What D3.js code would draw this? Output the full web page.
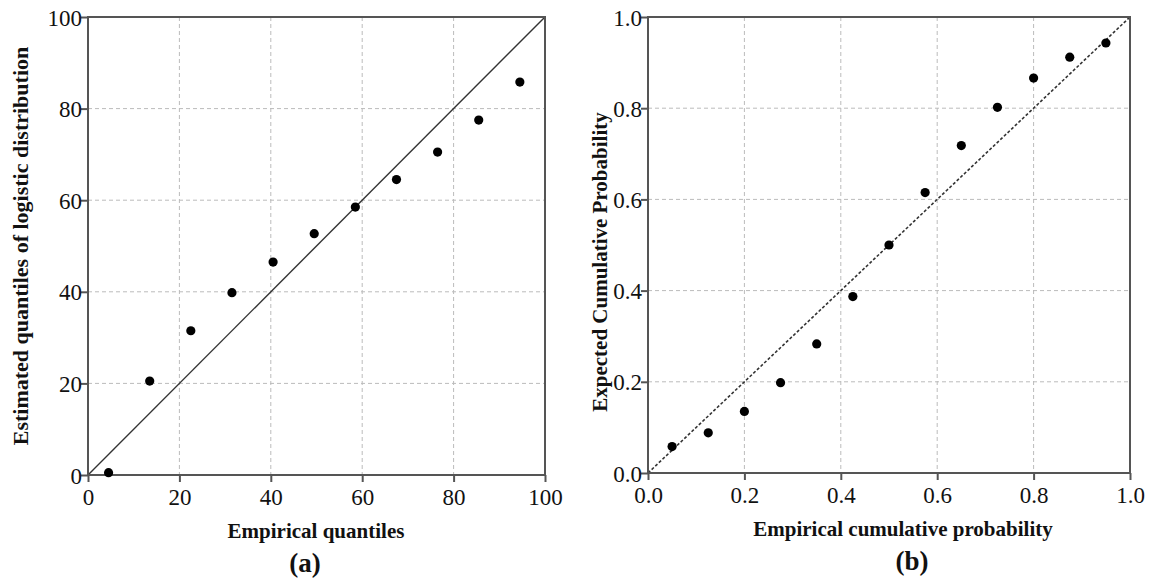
<!DOCTYPE html>
<html>
<head>
<meta charset="utf-8">
<script src="https://cdn.jsdelivr.net/npm/d3@7"></script>
<style>
  body { margin: 0; background: #fff; }
</style>
</head>
<body>
<div id="chart"></div>
<script>
// Panel (a): Q-Q plot
var empQuantiles = [4.5, 13.5, 22.5, 31.5, 40.5, 49.5, 58.5, 67.5, 76.5, 85.5, 94.5];
var estQuantiles = [0.5, 20.5, 31.5, 39.8, 46.5, 52.7, 58.5, 64.5, 70.5, 77.5, 85.8];
var ticksA = [0, 20, 40, 60, 80, 100];

// Panel (b): P-P plot
var empProb = [0.05, 0.125, 0.2, 0.275, 0.35, 0.425, 0.5, 0.575, 0.65, 0.725, 0.8, 0.875, 0.95];
var expProb = [0.058, 0.088, 0.135, 0.198, 0.283, 0.387, 0.5, 0.615, 0.718, 0.802, 0.866, 0.912, 0.943];
var ticksB = [0, 0.2, 0.4, 0.6, 0.8, 1.0];

var serif = '"Liberation Serif", "Times New Roman", serif';

var svgWidth = 1151;
var svgHeight = 579;

var svg = d3.select("#chart")
  .append("svg")
  .attr("width", svgWidth)
  .attr("height", svgHeight);

function drawPanel(opts) {
  var width = opts.right - opts.left;
  var height = opts.bottom - opts.top;

  var g = svg.append("g")
    .attr("transform", `translate(${opts.left}, ${opts.top})`);

  var x = d3.scaleLinear().domain(opts.domain).range([0, width]);
  var y = d3.scaleLinear().domain(opts.domain).range([height, 0]);

  // grid lines
  var inner = opts.ticks.slice(1, -1);
  g.selectAll(".vgrid").data(inner).enter().append("line")
    .attr("x1", d => x(d)).attr("x2", d => x(d))
    .attr("y1", 0).attr("y2", height)
    .attr("stroke", "#bbb").attr("stroke-width", 1)
    .attr("stroke-dasharray", "4,3");
  g.selectAll(".hgrid").data(inner).enter().append("line")
    .attr("x1", 0).attr("x2", width)
    .attr("y1", d => y(d)).attr("y2", d => y(d))
    .attr("stroke", "#bbb").attr("stroke-width", 1)
    .attr("stroke-dasharray", "4,3");

  // reference diagonal
  g.append("line")
    .attr("x1", x(opts.domain[0])).attr("y1", y(opts.domain[0]))
    .attr("x2", x(opts.domain[1])).attr("y2", y(opts.domain[1]))
    .attr("stroke", "#333").attr("stroke-width", opts.dashed ? 1.6 : 1.4)
    .attr("stroke-dasharray", opts.dashed ? "3,2" : null);

  // frame
  g.append("rect")
    .attr("width", width).attr("height", height)
    .attr("fill", "none").attr("stroke", "#555").attr("stroke-width", 2);

  // axes
  var bottomAxis = d3.axisBottom(x).tickValues(opts.ticks).tickFormat(opts.fmt).tickSize(7).tickSizeOuter(0);
  var leftAxis = d3.axisLeft(y).tickValues(opts.ticks).tickFormat(opts.fmt).tickSize(7).tickSizeOuter(0);

  var xa = g.append("g").attr("transform", `translate(0, ${height})`).call(bottomAxis);
  var ya = g.append("g").call(leftAxis);
  [xa, ya].forEach(function(a) {
    a.attr("font-family", serif).attr("font-size", 23);
    a.select(".domain").remove();
    a.selectAll(".tick line").attr("stroke", "#555").attr("stroke-width", 2);
    a.selectAll(".tick text").attr("fill", "#111");
  });
  xa.selectAll(".tick text").attr("y", 30).attr("dy", null);
  ya.selectAll(".tick text").attr("x", -6).attr("dy", "0.35em");

  // points
  g.selectAll("circle")
    .data(opts.xs)
    .enter()
    .append("circle")
    .attr("cx", d => x(d))
    .attr("cy", (d, i) => y(opts.ys[i]))
    .attr("r", 4.6)
    .attr("fill", "#000");

  // titles
  g.append("text")
    .attr("x", opts.xTitleX)
    .attr("y", height + 63)
    .attr("text-anchor", "middle")
    .style("font-family", serif).style("font-weight", "bold").style("font-size", "21px")
    .attr("fill", "#111")
    .text(opts.xTitle);

  g.append("text")
    .attr("transform", "rotate(-90)")
    .attr("x", -opts.yTitleY)
    .attr("y", opts.yTitleX)
    .attr("text-anchor", "middle")
    .style("font-family", serif).style("font-weight", "bold").style("font-size", opts.yTitleSize + "px")
    .attr("fill", "#111")
    .text(opts.yTitle);

  g.append("text")
    .attr("x", opts.tagX)
    .attr("y", height + 97)
    .attr("text-anchor", "middle")
    .style("font-family", serif).style("font-weight", "bold").style("font-size", "27px")
    .attr("fill", "#111")
    .text(opts.tag);
}

drawPanel({
  left: 88, right: 545, top: 17, bottom: 475,
  domain: [0, 100], ticks: ticksA, fmt: d3.format("d"),
  xs: empQuantiles, ys: estQuantiles, dashed: false,
  xTitle: "Empirical quantiles", xTitleX: 228,
  yTitle: "Estimated quantiles of logistic distribution",
  yTitleX: -60, yTitleY: 229, yTitleSize: 22,
  tag: "(a)", tagX: 217
});

drawPanel({
  left: 648, right: 1130, top: 17, bottom: 473,
  domain: [0, 1], ticks: ticksB, fmt: d3.format(".1f"),
  xs: empProb, ys: expProb, dashed: true,
  xTitle: "Empirical cumulative probability", xTitleX: 255,
  yTitle: "Expected Cumulative Probability",
  yTitleX: -41, yTitleY: 245, yTitleSize: 21,
  tag: "(b)", tagX: 264
});
</script>
</body>
</html>
